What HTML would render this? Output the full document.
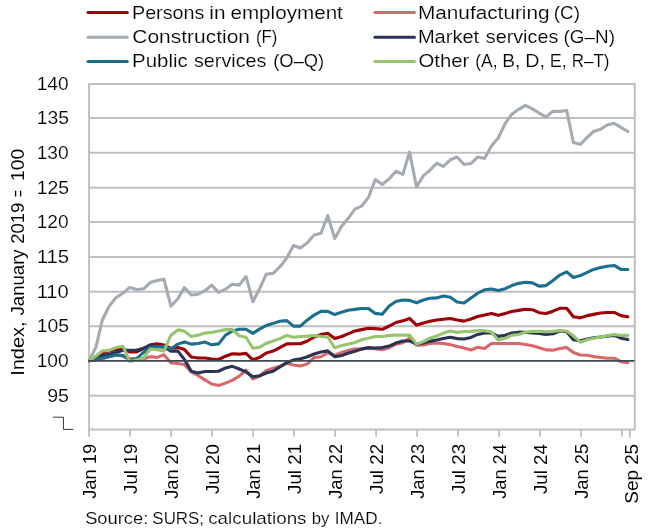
<!DOCTYPE html>
<html lang="en">
<head>
<meta charset="utf-8">
<title>Persons in employment by activity</title>
<style>
html,body{margin:0;padding:0;background:#fff;}
body{width:650px;height:532px;overflow:hidden;}
svg{display:block;}
svg text{font-family:"Liberation Sans",sans-serif;fill:#000;}
</style>
</head>
<body>
<svg width="650" height="532" viewBox="0 0 650 532">
<rect width="650" height="532" fill="#fff"/>
<g stroke="#BFBFBF" stroke-width="2" fill="none">
<line x1="89.1" x2="634.8" y1="326.15" y2="326.15"/>
<line x1="89.1" x2="634.8" y1="291.7" y2="291.7"/>
<line x1="89.1" x2="634.8" y1="256.9" y2="256.9"/>
<line x1="89.1" x2="634.8" y1="222.1" y2="222.1"/>
<line x1="89.1" x2="634.8" y1="187.85" y2="187.85"/>
<line x1="89.1" x2="634.8" y1="152.75" y2="152.75"/>
<line x1="89.1" x2="634.8" y1="118.0" y2="118.0"/>
<line x1="89.1" x2="634.8" y1="395.75" y2="395.75"/>
</g>
<rect x="89.1" y="84.0" width="545.7" height="345.50" fill="none" stroke="#BFBFBF" stroke-width="2" stroke-linejoin="round"/>
<g stroke="#BFBFBF" stroke-width="1.8">
<line x1="89.1" x2="89.1" y1="429.5" y2="436.8"/>
<line x1="130.1" x2="130.1" y1="429.5" y2="436.8"/>
<line x1="171.1" x2="171.1" y1="429.5" y2="436.8"/>
<line x1="212.1" x2="212.1" y1="429.5" y2="436.8"/>
<line x1="253.1" x2="253.1" y1="429.5" y2="436.8"/>
<line x1="294.1" x2="294.1" y1="429.5" y2="436.8"/>
<line x1="335.1" x2="335.1" y1="429.5" y2="436.8"/>
<line x1="376.1" x2="376.1" y1="429.5" y2="436.8"/>
<line x1="417.1" x2="417.1" y1="429.5" y2="436.8"/>
<line x1="458.1" x2="458.1" y1="429.5" y2="436.8"/>
<line x1="499.1" x2="499.1" y1="429.5" y2="436.8"/>
<line x1="540.1" x2="540.1" y1="429.5" y2="436.8"/>
<line x1="581.1" x2="581.1" y1="429.5" y2="436.8"/>
<line x1="622.1" x2="622.1" y1="429.5" y2="436.8"/>
<line x1="629.85" x2="629.85" y1="429.5" y2="437.8"/>
</g>
<defs><clipPath id="plotclip"><rect x="88.1" y="83" width="547.7" height="347.5"/></clipPath></defs>
<g clip-path="url(#plotclip)">
<polyline points="89.10,360.74 96.05,356.59 102.32,353.13 109.27,351.05 115.99,349.67 122.94,348.98 129.66,351.95 136.61,351.95 143.56,348.50 150.28,344.83 157.23,343.86 163.95,344.97 170.90,348.29 177.85,347.60 184.35,349.39 191.29,357.07 198.02,357.97 204.96,357.97 211.69,359.01 218.63,359.49 225.58,356.17 232.30,353.82 239.25,354.17 245.97,353.34 252.92,359.77 259.87,357.28 266.14,353.13 273.09,351.05 279.81,347.60 286.76,343.86 293.49,343.72 300.43,343.72 307.38,341.02 314.10,337.08 321.05,334.52 327.77,333.28 334.72,338.60 341.67,336.53 347.94,333.90 354.89,330.99 361.61,329.61 368.56,328.23 375.28,328.64 382.23,329.33 389.18,326.01 395.90,322.50 402.85,320.84 409.57,318.43 416.52,325.19 423.47,323.05 429.74,321.33 436.69,319.95 443.41,319.26 450.36,318.43 457.08,319.95 464.03,321.12 470.98,318.98 477.70,316.44 484.65,314.92 491.37,313.40 498.32,315.33 505.27,313.40 511.77,311.47 518.71,310.37 525.44,309.34 532.38,309.68 539.11,312.71 546.05,313.54 553.00,311.20 559.72,308.30 566.67,308.30 573.39,316.78 580.34,317.88 587.29,315.61 593.56,314.37 600.51,313.06 607.23,312.44 614.18,312.44 620.91,315.61 627.85,316.78" fill="none" stroke="#9E0008" stroke-width="3.1" stroke-linejoin="round" stroke-linecap="round"/>
<polyline points="89.10,360.74 96.05,359.91 102.32,358.66 109.27,356.73 115.99,355.21 122.94,356.04 129.66,358.66 136.61,359.01 143.56,359.01 150.28,356.59 157.23,357.42 163.95,354.72 170.90,362.84 177.85,363.54 184.35,364.45 191.29,371.94 198.02,375.44 204.96,379.86 211.69,383.99 218.63,385.46 225.58,383.15 232.30,380.35 239.25,376.14 245.97,370.12 252.92,378.95 259.87,375.72 266.14,370.75 273.09,368.23 279.81,366.34 286.76,363.26 293.49,365.08 300.43,365.99 307.38,363.89 314.10,357.63 321.05,356.73 327.77,352.78 334.72,355.48 341.67,352.44 347.94,350.57 354.89,349.12 361.61,348.70 368.56,348.29 375.28,348.70 382.23,349.67 389.18,347.73 395.90,344.14 402.85,342.75 409.57,337.91 416.52,345.24 423.47,345.04 429.74,343.44 436.69,343.03 443.41,343.44 450.36,344.62 457.08,346.49 464.03,347.94 470.98,349.95 477.70,347.25 484.65,348.43 491.37,343.44 498.32,343.44 505.27,343.44 511.77,343.44 518.71,343.44 525.44,344.55 532.38,345.73 539.11,347.80 546.05,349.88 553.00,350.16 559.72,348.56 566.67,347.46 573.39,352.58 580.34,355.00 587.29,355.27 593.56,356.59 600.51,357.42 607.23,358.18 614.18,358.18 620.91,361.72 627.85,362.70" fill="none" stroke="#D9666A" stroke-width="3.1" stroke-linejoin="round" stroke-linecap="round"/>
<polyline points="89.10,360.74 96.05,346.90 102.32,319.95 109.27,305.96 115.99,297.56 122.94,293.28 129.66,287.45 136.61,289.54 143.56,288.78 150.28,282.51 157.23,280.42 163.95,279.17 170.90,306.17 177.85,298.73 184.35,287.59 191.29,295.01 198.02,294.18 204.96,290.73 211.69,285.16 218.63,292.39 225.58,289.19 232.30,284.25 239.25,285.09 245.97,276.39 252.92,301.76 259.87,288.22 266.14,274.30 273.09,273.40 279.81,266.99 286.76,257.94 293.49,245.49 300.43,248.06 307.38,242.77 314.10,234.98 321.05,233.17 327.77,215.52 334.72,238.46 341.67,226.35 347.94,218.81 354.89,209.15 361.61,206.14 368.56,197.23 375.28,179.57 382.23,184.48 389.18,178.86 395.90,171.28 402.85,174.44 409.57,152.06 416.52,186.87 423.47,175.64 429.74,170.44 436.69,163.28 443.41,166.30 450.36,159.77 457.08,156.96 464.03,164.47 470.98,163.42 477.70,157.03 484.65,158.37 491.37,146.01 498.32,137.74 505.27,123.42 511.77,114.19 518.71,109.30 525.44,105.35 532.38,108.89 539.11,113.04 546.05,116.91 553.00,111.20 559.72,111.40 566.67,110.45 573.39,142.53 580.34,144.27 587.29,137.46 593.56,131.41 600.51,129.26 607.23,124.95 614.18,123.35 620.91,127.38 627.85,131.41" fill="none" stroke="#A4ABB3" stroke-width="3.1" stroke-linejoin="round" stroke-linecap="round"/>
<polyline points="89.10,360.74 96.05,357.97 102.32,355.76 109.27,354.17 115.99,352.44 122.94,350.36 129.66,350.36 136.61,350.36 143.56,348.29 150.28,345.52 157.23,346.21 163.95,347.25 170.90,351.26 177.85,351.05 184.35,359.36 191.29,371.24 198.02,372.99 204.96,371.45 211.69,371.45 218.63,371.24 225.58,367.95 232.30,366.34 239.25,369.00 245.97,371.94 252.92,376.84 259.87,375.72 266.14,372.99 273.09,371.24 279.81,367.04 286.76,362.63 293.49,360.05 300.43,358.87 307.38,356.80 314.10,354.03 321.05,352.02 327.77,350.85 334.72,356.73 341.67,355.48 347.94,353.27 354.89,351.19 361.61,349.12 368.56,347.60 375.28,348.08 382.23,347.60 389.18,346.07 395.90,343.03 402.85,340.95 409.57,340.95 416.52,344.14 423.47,343.03 429.74,341.37 436.69,340.06 443.41,338.60 450.36,337.22 457.08,338.60 464.03,339.02 470.98,337.43 477.70,334.45 484.65,332.93 491.37,332.93 498.32,336.39 505.27,335.21 511.77,332.93 518.71,332.17 525.44,332.38 532.38,332.93 539.11,333.41 546.05,334.45 553.00,333.83 559.72,330.99 566.67,331.75 573.39,339.78 580.34,340.68 587.29,338.95 593.56,337.70 600.51,337.01 607.23,336.11 614.18,335.42 620.91,338.19 627.85,339.43" fill="none" stroke="#2B3354" stroke-width="3.1" stroke-linejoin="round" stroke-linecap="round"/>
<polyline points="89.10,360.74 96.05,359.70 102.32,358.11 109.27,356.45 115.99,354.65 122.94,355.55 129.66,360.05 136.61,358.66 143.56,352.44 150.28,347.60 157.23,346.90 163.95,346.56 170.90,348.98 177.85,344.14 184.35,342.06 191.29,344.14 198.02,343.44 204.96,342.06 211.69,344.83 218.63,343.86 225.58,335.14 232.30,330.99 239.25,329.26 245.97,329.26 252.92,333.34 259.87,328.92 266.14,325.60 273.09,323.39 279.81,321.33 286.76,320.64 293.49,326.15 300.43,326.15 307.38,319.95 314.10,315.13 321.05,311.41 327.77,311.41 334.72,314.57 341.67,312.16 347.94,310.30 354.89,309.34 361.61,308.44 368.56,308.44 375.28,313.40 382.23,314.23 389.18,306.03 395.90,301.55 402.85,299.97 409.57,300.38 416.52,302.79 423.47,299.97 429.74,298.25 436.69,297.90 443.41,296.04 450.36,297.28 457.08,302.03 464.03,303.07 470.98,297.97 477.70,293.15 484.65,289.82 491.37,288.92 498.32,290.59 505.27,288.64 511.77,285.58 518.71,283.35 525.44,282.30 532.38,282.86 539.11,286.13 546.05,285.58 553.00,280.42 559.72,275.07 566.67,271.86 573.39,277.50 580.34,275.55 587.29,272.35 593.56,269.43 600.51,267.55 607.23,266.23 614.18,265.46 620.91,269.43 627.85,269.43" fill="none" stroke="#1B6E8C" stroke-width="3.1" stroke-linejoin="round" stroke-linecap="round"/>
<polyline points="89.10,360.74 96.05,355.90 102.32,351.05 109.27,350.36 115.99,347.60 122.94,346.21 129.66,361.44 136.61,360.05 143.56,357.97 150.28,348.98 157.23,349.67 163.95,351.05 170.90,335.14 177.85,329.89 184.35,331.13 191.29,336.53 198.02,335.14 204.96,333.07 211.69,332.38 218.63,330.99 225.58,329.61 232.30,329.61 239.25,335.84 245.97,337.22 252.92,348.29 259.87,347.18 266.14,343.44 273.09,341.02 279.81,338.60 286.76,335.49 293.49,337.22 300.43,336.53 307.38,336.11 314.10,335.49 321.05,336.53 327.77,337.01 334.72,347.87 341.67,345.52 347.94,344.14 354.89,342.55 361.61,339.71 368.56,338.26 375.28,336.53 382.23,336.53 389.18,335.56 395.90,335.14 402.85,335.14 409.57,335.14 416.52,344.14 423.47,341.58 429.74,338.12 436.69,336.04 443.41,333.07 450.36,331.06 457.08,332.38 464.03,331.48 470.98,331.41 477.70,330.65 484.65,330.65 491.37,331.89 498.32,339.99 505.27,338.19 511.77,335.21 518.71,334.45 525.44,332.17 532.38,331.41 539.11,331.20 546.05,331.75 553.00,331.41 559.72,330.51 566.67,330.99 573.39,335.84 580.34,342.20 587.29,339.78 593.56,338.19 600.51,337.01 607.23,335.84 614.18,334.45 620.91,335.42 627.85,335.42" fill="none" stroke="#97C56F" stroke-width="3.1" stroke-linejoin="round" stroke-linecap="round"/>
</g>
<line x1="88.1" x2="634.5" y1="360.9" y2="360.9" stroke="#3F4952" stroke-width="1.9"/>
<polyline points="53,417.2 63.45,417.2 63.45,429.4 73.3,429.4" fill="none" stroke="#000" stroke-width="0.8"/>
<line x1="88" x2="127.3" y1="12.45" y2="12.45" stroke="#9E0008" stroke-width="3" stroke-linecap="round"/>
<line x1="374.9" x2="414.4" y1="12.45" y2="12.45" stroke="#D9666A" stroke-width="3" stroke-linecap="round"/>
<line x1="88" x2="127.3" y1="37.35" y2="37.35" stroke="#A4ABB3" stroke-width="3" stroke-linecap="round"/>
<line x1="374.9" x2="414.4" y1="37.35" y2="37.35" stroke="#2B3354" stroke-width="3" stroke-linecap="round"/>
<line x1="88" x2="127.3" y1="61.4" y2="61.4" stroke="#1B6E8C" stroke-width="3" stroke-linecap="round"/>
<line x1="374.9" x2="414.4" y1="61.4" y2="61.4" stroke="#97C56F" stroke-width="3" stroke-linecap="round"/>
<g opacity="0.999" stroke="#fff" stroke-width="0.16">
<text transform="matrix(1.0521 0 0 1 131.95 18.70)" font-size="18.8">Persons</text>
<text transform="matrix(1.1047 0 0 1 209.30 18.70)" font-size="18.8">in</text>
<text transform="matrix(1.0984 0 0 1 230.45 18.70)" font-size="18.8">employment</text>
<text transform="matrix(1.1158 0 0 1 132.32 42.90)" font-size="18.8">Construction</text>
<text transform="matrix(0.8916 0 0 1 256.01 42.90)" font-size="18.8">(F)</text>
<text transform="matrix(1.0861 0 0 1 132.10 67.30)" font-size="18.8">Public</text>
<text transform="matrix(1.0519 0 0 1 193.99 67.30)" font-size="18.8">services</text>
<text transform="matrix(0.9768 0 0 1 273.24 67.30)" font-size="18.8">(O–Q)</text>
<text transform="matrix(1.1063 0 0 1 417.88 18.70)" font-size="18.8">Manufacturing</text>
<text transform="matrix(1.0003 0 0 1 553.82 18.70)" font-size="18.8">(C)</text>
<text transform="matrix(1.0669 0 0 1 417.93 42.90)" font-size="18.8">Market</text>
<text transform="matrix(1.0519 0 0 1 485.79 42.90)" font-size="18.8">services</text>
<text transform="matrix(1.0036 0 0 1 563.57 42.90)" font-size="18.8">(G–N)</text>
<text transform="matrix(1.0815 0 0 1 418.55 67.30)" font-size="18.8">Other</text>
<text transform="matrix(0.9247 0 0 1 475.29 67.30)" font-size="18.8">(A,</text>
<text transform="matrix(1.0209 0 0 1 502.30 67.30)" font-size="18.8">B,</text>
<text transform="matrix(1.0485 0 0 1 525.26 67.30)" font-size="18.8">D,</text>
<text transform="matrix(0.9604 0 0 1 549.69 67.30)" font-size="18.8">E,</text>
<text transform="matrix(0.9025 0 0 1 571.77 67.30)" font-size="18.8">R–T)</text>
<text transform="matrix(1.0432 0 0 1 47.18 401.80)" font-size="18.8">95</text>
<text transform="matrix(1.0194 0 0 1 36.70 366.79)" font-size="18.8">100</text>
<text transform="matrix(1.0296 0 0 1 36.69 332.20)" font-size="18.8">105</text>
<text transform="matrix(1.0696 0 0 1 36.64 297.75)" font-size="18.8">110</text>
<text transform="matrix(1.0808 0 0 1 36.63 262.95)" font-size="18.8">115</text>
<text transform="matrix(1.0194 0 0 1 36.70 228.15)" font-size="18.8">120</text>
<text transform="matrix(1.0296 0 0 1 36.69 193.90)" font-size="18.8">125</text>
<text transform="matrix(1.0194 0 0 1 36.70 158.80)" font-size="18.8">130</text>
<text transform="matrix(1.0296 0 0 1 36.69 124.05)" font-size="18.8">135</text>
<text transform="matrix(1.0194 0 0 1 36.70 90.05)" font-size="18.8">140</text>
<text transform="matrix(1.1053 0 0 1 85.13 523.90)" font-size="16.6">Source:</text>
<text transform="matrix(1.0189 0 0 1 152.37 523.90)" font-size="16.6">SURS;</text>
<text transform="matrix(1.1342 0 0 1 208.21 523.90)" font-size="16.6">calculations</text>
<text transform="matrix(1.0064 0 0 1 311.76 523.90)" font-size="16.6">by</text>
<text transform="matrix(1.0343 0 0 1 334.76 523.90)" font-size="16.6">IMAD.</text>
</g>
<g opacity="0.999" stroke="#fff" stroke-width="0.04">
<text transform="translate(24.00 375.86) rotate(-90) scale(1.0654 1)" font-size="18.8">Index,</text>
<text transform="translate(24.00 315.49) rotate(-90) scale(0.9896 1)" font-size="18.8">January</text>
<text transform="translate(24.00 243.77) rotate(-90) scale(0.9831 1)" font-size="18.8">2019</text>
<text transform="translate(24.00 197.05) rotate(-90) scale(0.6277 1)" font-size="18.8">=</text>
<text transform="translate(24.00 180.90) rotate(-90) scale(1.0227 1)" font-size="18.8">100</text>
<text transform="translate(95.85 498.79) rotate(-90) scale(0.9731 1)" font-size="18.8">Jan 19</text>
<text transform="translate(136.85 493.99) rotate(-90) scale(0.9998 1)" font-size="18.8">Jul 19</text>
<text transform="translate(177.85 498.78) rotate(-90) scale(0.9680 1)" font-size="18.8">Jan 20</text>
<text transform="translate(218.85 493.99) rotate(-90) scale(0.9938 1)" font-size="18.8">Jul 20</text>
<text transform="translate(259.85 498.79) rotate(-90) scale(0.9731 1)" font-size="18.8">Jan 21</text>
<text transform="translate(300.85 493.99) rotate(-90) scale(0.9998 1)" font-size="18.8">Jul 21</text>
<text transform="translate(341.85 498.79) rotate(-90) scale(0.9731 1)" font-size="18.8">Jan 22</text>
<text transform="translate(382.85 493.99) rotate(-90) scale(0.9998 1)" font-size="18.8">Jul 22</text>
<text transform="translate(423.85 498.79) rotate(-90) scale(0.9731 1)" font-size="18.8">Jan 23</text>
<text transform="translate(464.85 493.99) rotate(-90) scale(0.9998 1)" font-size="18.8">Jul 23</text>
<text transform="translate(505.85 498.78) rotate(-90) scale(0.9680 1)" font-size="18.8">Jan 24</text>
<text transform="translate(546.85 493.99) rotate(-90) scale(0.9938 1)" font-size="18.8">Jul 24</text>
<text transform="translate(587.85 498.79) rotate(-90) scale(0.9731 1)" font-size="18.8">Jan 25</text>
<text transform="translate(637.90 503.69) rotate(-90) scale(1.0045 1)" font-size="18.8">Sep 25</text>
</g>
</svg>
</body>
</html>
